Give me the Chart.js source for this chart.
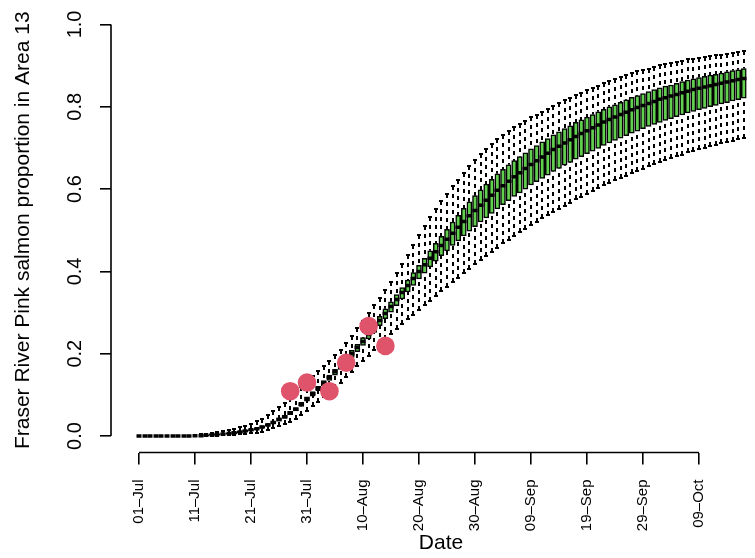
<!DOCTYPE html>
<html>
<head>
<meta charset="utf-8">
<script src="https://cdn.jsdelivr.net/npm/chart.js@4.4.1/dist/chart.umd.min.js"></script>
<style>
  html, body { margin: 0; padding: 0; background: #fff; }
  #wrap { width: 755px; height: 558px; overflow: hidden; }
</style>
</head>
<body>
<div id="wrap"><canvas id="c" width="771" height="558"></canvas></div>
<script>
// ---- data (day index 0 = 01-Jul) ----
const xTickIdx = [0, 10, 20, 30, 40, 50, 60, 70, 80, 90, 100];
const xTickLabels = ['01–Jul','11–Jul','21–Jul','31–Jul','10–Aug','20–Aug','30–Aug','09–Sep','19–Sep','29–Sep','09–Oct'];
const yTickVals = [0, 0.2, 0.4, 0.6, 0.8, 1.0];
const yTickLabels = ['0.0','0.2','0.4','0.6','0.8','1.0'];

const boxLo = [
  0,0,0,0,0,0,0,0,0,0,
  .000,.000,.000,.001,.001,.002,.002,.003,.004,.005,
  .007,.008,.011,.014,.019,.024,.029,.035,.042,.051,
  .062,.072,.083,.094,.105,.117,.130,.143,.156,.169,
  .182,.195,.209,.222,.236,.248,.260,.272,.284,.295,
  .307,.318,.329,.341,.352,.363,.375,.385,.396,.407,
  .418,.428,.438,.448,.458,.468,.477,.487,.495,.504,
  .513,.521,.529,.537,.545,.552,.560,.567,.575,.581,
  .588,.595,.602,.609,.615,.621,.627,.633,.640,.645,
  .650,.655,.661,.666,.671,.675,.680,.684,.689,.693,
  .697,.700,.704,.707,.711,.714,.718,.721,.725
];
const boxQ1 = [
  0,0,0,0,0,0,0,0,0,0,
  .001,.001,.001,.002,.003,.004,.005,.006,.008,.010,
  .013,.015,.019,.024,.030,.036,.043,.052,.061,.072,
  .085,.097,.110,.122,.135,.148,.162,.176,.191,.205,
  .220,.236,.252,.268,.285,.301,.317,.333,.350,.366,
  .382,.396,.411,.425,.438,.450,.463,.474,.486,.498,
  .509,.520,.530,.541,.552,.562,.572,.582,.591,.600,
  .610,.618,.626,.634,.643,.650,.658,.665,.673,.679,
  .686,.692,.699,.706,.712,.718,.724,.730,.736,.741,
  .747,.752,.757,.762,.767,.771,.776,.780,.785,.789,
  .793,.796,.800,.803,.807,.810,.814,.817,.821
];
const boxMed = [
  0,0,0,0,0,0,0,0,0,0,
  .001,.001,.002,.003,.004,.005,.006,.008,.010,.012,
  .015,.018,.022,.027,.033,.040,.047,.056,.065,.077,
  .090,.103,.116,.129,.142,.156,.170,.185,.200,.215,
  .230,.247,.264,.281,.298,.315,.332,.349,.366,.383,
  .400,.416,.432,.448,.463,.478,.493,.507,.521,.535,
  .548,.561,.573,.585,.597,.608,.619,.630,.640,.650,
  .660,.669,.678,.687,.696,.704,.712,.720,.728,.735,
  .742,.749,.756,.763,.769,.775,.781,.787,.793,.798,
  .803,.808,.813,.818,.822,.826,.830,.834,.838,.842,
  .845,.848,.851,.854,.857,.860,.863,.866,.869
];
const boxQ3 = [
  0,0,0,0,0,0,0,0,0,0,
  .001,.001,.003,.004,.005,.006,.007,.010,.012,.014,
  .017,.020,.025,.030,.036,.044,.051,.060,.069,.082,
  .095,.108,.121,.135,.148,.162,.177,.192,.208,.223,
  .239,.256,.274,.291,.309,.326,.344,.361,.379,.397,
  .415,.432,.450,.468,.485,.502,.520,.536,.553,.569,
  .584,.598,.612,.624,.637,.648,.659,.669,.679,.688,
  .698,.706,.715,.723,.732,.739,.747,.754,.762,.768,
  .775,.781,.788,.794,.800,.805,.811,.817,.823,.827,
  .832,.837,.842,.846,.850,.853,.857,.861,.865,.868,
  .871,.874,.877,.879,.882,.885,.888,.890,.893
];
const boxHi = [
  0,0,0,0,0,0,0,0,0,0,
  .003,.004,.005,.007,.009,.012,.014,.018,.021,.025,
  .030,.036,.042,.050,.060,.070,.081,.093,.105,.119,
  .134,.146,.159,.171,.182,.196,.210,.227,.244,.262,
  .280,.299,.318,.336,.354,.375,.396,.418,.441,.464,
  .488,.510,.532,.552,.571,.589,.607,.623,.640,.656,
  .671,.685,.698,.710,.722,.731,.741,.750,.758,.766,
  .774,.781,.788,.795,.803,.809,.816,.822,.829,.834,
  .840,.845,.851,.857,.862,.867,.872,.877,.882,.886,
  .890,.893,.897,.901,.904,.906,.909,.912,.915,.917,
  .919,.921,.923,.925,.927,.929,.931,.933,.935
];

// observed proportions (red points)
const obsDay  = [27, 30, 34, 37, 41, 44];
const obsProp = [0.109, 0.130, 0.109, 0.178, 0.267, 0.219];

// ---- chart ----
const FAMILY = '"Liberation Sans", Arial, Helvetica, sans-serif';
Chart.defaults.font.family = FAMILY;
Chart.defaults.color = '#000';

const BOX_W = 5;

const boxParts = {
  id: 'boxParts',
  afterDatasetDraw(chart, args) {
    if (args.index !== 0) return;
    const {ctx, chartArea, scales} = chart;
    const xs = scales.x, ys = scales.y;
    ctx.save();
    ctx.beginPath();
    ctx.rect(chartArea.left, chartArea.top, chartArea.width, chartArea.height);
    ctx.clip();
    ctx.strokeStyle = '#000';
    ctx.lineCap = 'butt';
    for (let i = 0; i < boxMed.length; i++) {
      const px = Math.round(xs.getPixelForValue(i));
      const pLo = Math.round(ys.getPixelForValue(boxLo[i]));
      const pQ1 = ys.getPixelForValue(boxQ1[i]);
      const pMd = ys.getPixelForValue(boxMed[i]);
      const pQ3 = ys.getPixelForValue(boxQ3[i]);
      const pHi = Math.round(ys.getPixelForValue(boxHi[i]));
      // dashed whiskers, drawn from the staple towards the box
      ctx.lineWidth = 2;
      ctx.setLineDash([4, 4]);
      ctx.beginPath(); ctx.moveTo(px, pHi); ctx.lineTo(px, pQ3); ctx.stroke();
      ctx.beginPath(); ctx.moveTo(px, pLo); ctx.lineTo(px, pQ1); ctx.stroke();
      ctx.setLineDash([]);
      // staples
      ctx.lineWidth = 2;
      ctx.beginPath();
      ctx.moveTo(px - 2, pHi); ctx.lineTo(px + 2, pHi);
      ctx.moveTo(px - 2, pLo); ctx.lineTo(px + 2, pLo);
      ctx.stroke();
      // median
      ctx.lineWidth = 3.5;
      ctx.beginPath(); ctx.moveTo(px - BOX_W / 2, pMd); ctx.lineTo(px + BOX_W / 2, pMd); ctx.stroke();
    }
    ctx.restore();
  },
  afterDraw(chart) {
    const {ctx, chartArea, scales} = chart;
    const xs = scales.x, ys = scales.y;
    ctx.save();
    ctx.strokeStyle = '#000';
    ctx.lineWidth = 1.6;
    ctx.beginPath();
    ctx.moveTo(xs.getPixelForValue(xTickIdx[0]), chartArea.bottom);
    ctx.lineTo(xs.getPixelForValue(xTickIdx[xTickIdx.length - 1]), chartArea.bottom);
    ctx.moveTo(chartArea.left, ys.getPixelForValue(yTickVals[0]));
    ctx.lineTo(chartArea.left, ys.getPixelForValue(yTickVals[yTickVals.length - 1]));
    ctx.stroke();
    ctx.restore();
  }
};

new Chart(document.getElementById('c'), {
  type: 'bar',
  data: {
    datasets: [
      {
        type: 'bar',
        data: boxMed.map((m, i) => ({x: i, y: [boxQ1[i], boxQ3[i]]})),
        backgroundColor: '#61D04F',
        borderColor: '#000',
        borderWidth: 1.5,
        borderSkipped: false,
        barThickness: BOX_W,
        order: 1
      },
      {
        type: 'scatter',
        data: obsDay.map((d, i) => ({x: d, y: obsProp[i]})),
        backgroundColor: '#DF536B',
        borderWidth: 0,
        pointRadius: 9.3,
        order: 0
      }
    ]
  },
  options: {
    responsive: false,
    animation: false,
    devicePixelRatio: 1,
    events: [],
    layout: {autoPadding: false, padding: {top: 8, left: 0, right: 0, bottom: 0}},
    plugins: {legend: {display: false}, tooltip: {enabled: false}},
    scales: {
      x: {
        type: 'linear',
        offset: false,
        min: -5,
        max: 112.86,
        afterBuildTicks: s => { s.ticks = xTickIdx.map(v => ({value: v})); },
        afterFit: s => { s.height = 105.5; s.paddingLeft = 0; s.paddingRight = 0; },
        grid: {offset: false, drawOnChartArea: false, drawTicks: true, tickLength: 12, color: '#000', lineWidth: 1.6},
        border: {display: false},
        ticks: {
          autoSkip: false, minRotation: 90, maxRotation: 90, padding: 15,
          color: '#000', font: {size: 15, family: FAMILY},
          callback: (v, i) => xTickLabels[i]
        },
        title: {display: true, text: 'Date', color: '#000', font: {size: 21, family: FAMILY}, padding: {top: 0, bottom: 2}}
      },
      y: {
        type: 'linear',
        min: -0.04,
        max: 1.04,
        afterBuildTicks: s => { s.ticks = yTickVals.map(v => ({value: v})); },
        afterFit: s => { s.width = 111; s.paddingTop = 0; s.paddingBottom = 0; },
        grid: {drawOnChartArea: false, drawTicks: true, tickLength: 11, color: '#000', lineWidth: 1.6},
        border: {display: false},
        ticks: {
          minRotation: 90, maxRotation: 90, crossAlign: 'center', padding: 10.5,
          color: '#000', font: {size: 20, family: FAMILY},
          callback: (v, i) => yTickLabels[i]
        },
        title: {display: true, text: 'Fraser River Pink salmon proportion in Area 13', color: '#000', font: {size: 21, family: FAMILY}, padding: {top: 11, bottom: 0}}
      }
    }
  },
  plugins: [boxParts]
});
</script>
</body>
</html>
